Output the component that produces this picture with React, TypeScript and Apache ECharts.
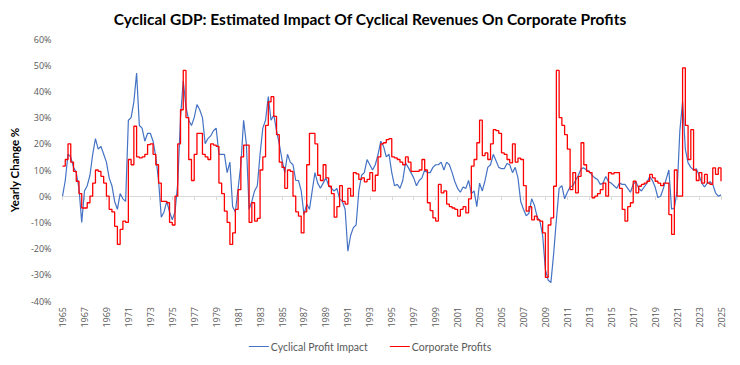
import React, { useEffect, useRef } from "react";
import * as echarts from "echarts";

const startYear = 1965;
const periodsPerYear = 4;

// Cyclical Profit Impact, quarterly, 1965Q1 .. 2025Q1 (%)
const cyclicalProfitImpact = [
  0, 6, 16, 15,
  11, 9, 3, -10,
  2, 4, 8, 16,
  22, 18, 19, 16,
  13, 7, 4, -2,
  -5, 1, -1, -2,
  29, 30, 36, 47,
  27, 26, 21, 24,
  24, 21, 15, 6,
  -8, -6, -2, -6,
  -9, -6, 5, 30,
  44, 34, 29, 27,
  30, 35, 33, 30,
  20, 22, 23, 25,
  26, 16, 16, 16,
  9, 13, -4, -6,
  3, 12, 29, 20,
  -5, -2, 2, 4,
  16, 26, 29, 38,
  29, 31, 25, 20,
  14, 9, 16, 13,
  12, 6, 6, 2,
  -7, -3, -5, 2,
  9, 5, 3, 5,
  7, 4, 3, 2,
  3, -1, -2, -5,
  -21, -15, -12, -11,
  2, 8, 9, 14,
  12, 10, 12, 16,
  21, 19, 15, 16,
  9, 4, 4.5, 3,
  6, 12.7, 11, 9,
  7, 4, 6, 7,
  10, 9, 9, 11,
  12, 12, 13, 10,
  13, 12, 9, 5.5,
  3, 1.5, 3.5, 3,
  6, 1, 2, -4,
  5, 2, 6, 11,
  12, 16, 13.5, 11,
  10.5, 10.5, 12.5, 12,
  9, 11, 7, -2,
  -5, -7.5, -6.5, -1,
  -3.5, -8, -9.5, -15,
  -28, -32, -33, -22,
  -9, 3, 4, -1,
  1.5, 3.5, 4, 6,
  8, 10.5, 10.8, 10,
  9.5, 8, 7, 6.4,
  4.5, 5, 7.5, 5.5,
  5, 4, 3, 5,
  4.5, 4.5, 3, 1.5,
  4.5, 5.5, 3, 2,
  3.5, 5, 7.5, 6,
  3.5, -0.5, 0, 3,
  6.4, 10, -5, -4.5,
  2, 25, 36, 18,
  12.7, 11, 10, 10.5,
  8, 5, 3.5, 5,
  5.5, 4.5, 1.3, 0,
  0.5,
];

// Corporate Profits, quarterly, 1965Q1 .. 2025Q1 (%)
const corporateProfits = [
  11.5, 14, 20, 13,
  9.5, 5.7, 1, -4.5,
  -4.5, -2.5, 0, 5,
  10, 9.5, 7.6, 5,
  0, -5, -6, -11.5,
  -18.4, -12.7, -9.5, -10,
  14, 12, 26.7, 15,
  14.6, 15, 16, 19.7,
  20, 16, 12, 5,
  -2, -2, -2.5, -10,
  -11, 0, 20, 33,
  48, 30, 14, 6,
  16, 24, 24, 16,
  15, 14, 20, 19.5,
  19, 5, 1, -5.7,
  -10, -18.4, -14, -5,
  2.5, 15, 19.5, 19.5,
  -10, -2.5, -9.5, -8.5,
  10, 15, 27, 36,
  38, 30.5, 23.5, 13,
  11, 3, 10, 9.5,
  0, -6, -7.6, -14,
  -6, 12, 24, 24,
  20, 8, 6, 12,
  7, 3.8, 1, -8,
  -4, 4, -2, -3,
  3, 0, 9, 8.5,
  6.4, 7, 5.5, 6.4,
  9, 2, 8, 15,
  20, 20.4, 21.6, 22,
  15, 14.6, 14, 13,
  12, 15, 13, 9.5,
  9.5, 9.5, 10, 14,
  10, -2.5, -5.5, -8.3,
  -9.5, 4.5, 1.3, 2,
  -3, -4, -4.5, -5,
  -7.6, -5, -4, -6.4,
  -1, 11.5, 14, 20.4,
  29, 15.5, 16.5, 14,
  20, 25.4, 25, 24,
  16.5, 16, 14, 12.7,
  20, 13, 14.5, 14,
  4, -5.7, -4, -9,
  -7.6, -9, -9.5, -14,
  -31, -11, -8.3, 3.8,
  48, 30, 27, 23.5,
  18, 2.5, 9, 1.3,
  7.6, 20.4, 12, 9.5,
  9, -0.6, 0, 1,
  2.5, 5, 0, 9,
  8.5, 9, 9, 3,
  -5, -9.5, -4, -2.5,
  5.7, 1.3, 3.8, 4.5,
  5, 5.7, 8.3, 7,
  5.7, 5, 4, 5,
  5, -7, -14.6, 10,
  0, 0, 49, 27,
  14, 25.4, 10, 6,
  9, 5, 8.3, 5,
  4.5, 10.8, 8.3, 10.8,
  5.7,
];

const seriesNames = ["Cyclical Profit Impact", "Corporate Profits"];
const yMin = -40;
const yMax = 60;
const yStep = 10;
const xMin = 1965;
const xMax = 2025;
const xStep = 2;

const toPairs = (vals: number[]) =>
  vals.map((v, i) => [startYear + i / periodsPerYear, v]);

export default function App() {
  const ref = useRef<HTMLDivElement>(null);
  useEffect(() => {
    if (!ref.current) return;
    const chart = echarts.init(ref.current, undefined, { renderer: "svg" });
    const axisGray = "#595959";
    chart.setOption({
      animation: false,
      title: {
        text: "Cyclical GDP: Estimated Impact Of Cyclical Revenues On Corporate Profits",
        left: "center",
        top: 6,
        textStyle: {
          fontFamily: "Lato",
          fontWeight: "bold",
          fontSize: 15.5,
          color: "#000",
        },
      },
      legend: {
        bottom: 8,
        left: "center",
        itemWidth: 20,
        itemHeight: 1,
        itemGap: 22,
        icon: "rect",
        textStyle: { fontFamily: "Lato", fontSize: 10.5, color: axisGray, padding: [0, 0, 0, -3] },
        data: seriesNames,
      },
      grid: { left: 59, right: 19, top: 39, bottom: 64 },
      xAxis: [
        {
          type: "value",
          min: xMin,
          max: xMax,
          interval: xStep,
          position: "bottom",
          axisLine: { show: false, onZero: false },
          axisTick: { show: false },
          splitLine: { show: false },
          axisLabel: {
            rotate: 90,
            fontFamily: "Open Sans",
            fontSize: 9,
            color: axisGray,
            margin: 6,
            formatter: (v: number) => String(v),
          },
        },
        {
          type: "value",
          min: xMin,
          max: xMax,
          interval: xStep,
          position: "bottom",
          axisLine: { show: true, onZero: true, lineStyle: { color: "#d9d9d9", width: 1 } },
          axisTick: { show: true, length: 4, lineStyle: { color: "#d9d9d9" } },
          splitLine: { show: false },
          axisLabel: { show: false },
        },
      ],
      yAxis: {
        type: "value",
        min: yMin,
        max: yMax,
        interval: yStep,
        name: "Yearly Change %",
        nameLocation: "middle",
        nameGap: 42,
        nameTextStyle: {
          fontFamily: "Lato",
          fontWeight: "bold",
          fontSize: 11.5,
          color: "#000",
        },
        axisLine: { show: false },
        axisTick: { show: false },
        splitLine: { show: false },
        axisLabel: {
          fontFamily: "Open Sans",
          fontSize: 9,
          color: axisGray,
          margin: 11,
          formatter: (v: number) => `${v}%`,
        },
      },
      series: [
        {
          name: seriesNames[0],
          type: "line",
          xAxisIndex: 0,
          data: toPairs(cyclicalProfitImpact),
          showSymbol: false,
          symbol: "none",
          lineStyle: { color: "#4472C4", width: 1.2 },
          itemStyle: { color: "#4472C4" },
          z: 2,
        },
        {
          name: seriesNames[1],
          type: "line",
          xAxisIndex: 0,
          step: "end",
          data: toPairs(corporateProfits),
          showSymbol: false,
          symbol: "none",
          lineStyle: { color: "#FF0000", width: 1.3 },
          itemStyle: { color: "#FF0000" },
          z: 3,
        },
      ],
    });
    return () => chart.dispose();
  }, []);
  return (
    <div
      ref={ref}
      style={{ position: "absolute", left: 0, top: 0, width: 740, height: 365 }}
    />
  );
}
